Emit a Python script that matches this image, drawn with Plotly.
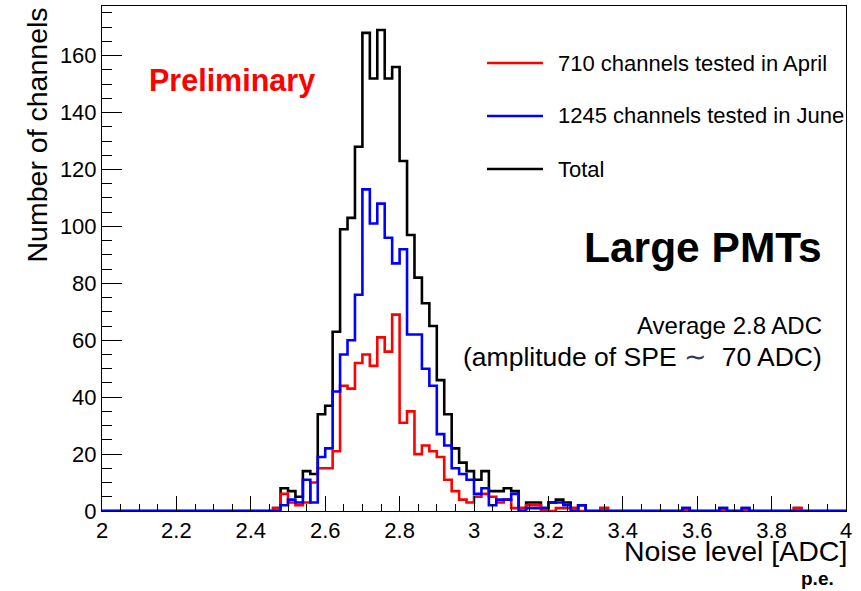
import numpy as np
import plotly.graph_objects as go

# ---- data: histogram of noise level, 100 bins from 2.0 to 4.0 (width 0.02) ----
bin_lo, bin_hi, n_bins = 2.0, 4.0, 100

april = [
    0, 0, 0, 0, 0, 0, 0, 0, 0, 0,
    0, 0, 0, 0, 0, 0, 0, 0, 0, 0,
    0, 0, 0, 1, 6, 3, 2, 3, 10, 15,
    15, 21, 44, 43, 52, 55, 51, 61, 56, 69,
    31, 35, 20, 23, 21, 19, 11, 7, 4, 3,
    5, 6, 5, 3, 4, 1, 1, 2, 2, 0,
    0, 1, 1, 1, 0, 0, 0, 1, 0, 0,
    0, 0, 0, 0, 0, 0, 0, 0, 0, 0,
    0, 0, 0, 0, 0, 0, 0, 0, 0, 0,
    0, 0, 0, 1, 0, 0, 0, 0, 0, 0,
]
june = [
    0, 0, 0, 0, 0, 0, 0, 0, 0, 0,
    0, 0, 0, 0, 0, 0, 0, 0, 0, 0,
    0, 0, 0, 0, 2, 4, 3, 11, 3, 19,
    22, 42, 55, 60, 76, 113, 101, 108, 96, 87,
    92, 62, 62, 50, 44, 27, 23, 15, 13, 11,
    6, 8, 2, 4, 4, 6, 0, 1, 1, 1,
    3, 3, 2, 0, 2, 0, 0, 0, 0, 0,
    0, 0, 0, 0, 0, 0, 0, 0, 1, 0,
    0, 0, 0, 1, 0, 0, 1, 0, 0, 0,
    0, 0, 0, 0, 0, 0, 0, 0, 0, 0,
]
total = [
    0, 0, 0, 0, 0, 0, 0, 0, 0, 0,
    0, 0, 0, 0, 0, 0, 0, 0, 0, 0,
    0, 0, 0, 1, 8, 7, 5, 14, 13, 34,
    37, 63, 99, 103, 128, 168, 152, 169, 152, 156,
    123, 97, 82, 73, 65, 46, 34, 22, 17, 14,
    11, 14, 7, 7, 8, 7, 1, 3, 3, 1,
    3, 4, 3, 1, 2, 0, 0, 1, 0, 0,
    0, 0, 0, 0, 0, 0, 0, 0, 1, 0,
    0, 0, 0, 1, 0, 0, 1, 0, 0, 0,
    0, 0, 0, 1, 0, 0, 0, 0, 0, 0,
]

series_names = ["710 channels tested in April", "1245 channels tested in June", "Total"]
series_colors = ["#ff0000", "#0000ff", "#000000"]

x_ticks = [2, 2.2, 2.4, 2.6, 2.8, 3, 3.2, 3.4, 3.6, 3.8, 4]
y_ticks = [0, 20, 40, 60, 80, 100, 120, 140, 160]

edges = np.linspace(bin_lo, bin_hi, n_bins + 1)
ymax = 1.05 * max(total)

FONT = "Liberation Sans, Arial, Helvetica, sans-serif"

fig = go.Figure()


def add_hist(vals, color):
    yv = list(vals) + [vals[-1]]
    fig.add_trace(go.Scatter(
        x=edges, y=yv, mode="lines", line_shape="hv",
        line=dict(color=color, width=2.6), showlegend=False,
        hoverinfo="skip", cliponaxis=False,
    ))


# drawing order: total first, then April, then June on top
add_hist(total, series_colors[2])
add_hist(april, series_colors[0])
add_hist(june, series_colors[1])

fig.update_layout(
    width=861, height=591,
    margin=dict(l=102, r=15, t=6, b=80),
    paper_bgcolor="white", plot_bgcolor="white",
    font=dict(family=FONT, color="black"),
    showlegend=False,
)

fig.update_xaxes(
    range=[bin_lo, bin_hi], tickvals=x_ticks, ticktext=[f"{v:g}" for v in x_ticks],
    ticks="inside", ticklen=15, tickwidth=1, tickcolor="black",
    minor=dict(dtick=0.05, tick0=2, ticks="inside", ticklen=7.5, tickcolor="black", tickwidth=1),
    showline=True, linecolor="black", linewidth=1, mirror=True,
    showgrid=False, zeroline=False,
    tickfont=dict(size=22, family=FONT, color="black"),
)
fig.update_yaxes(
    range=[0, ymax], tickvals=y_ticks,
    ticks="inside", ticklen=20, tickwidth=1, tickcolor="black",
    minor=dict(dtick=5, tick0=0, ticks="inside", ticklen=10, tickcolor="black", tickwidth=1),
    showline=True, linecolor="black", linewidth=1, mirror=True,
    showgrid=False, zeroline=False,
    tickfont=dict(size=22, family=FONT, color="black"),
)

# legend drawn ROOT-style
leg_y = [0.8871, 0.7822, 0.6772]
for name, col, yy in zip(series_names, series_colors, leg_y):
    fig.add_shape(type="line", xref="paper", yref="paper",
                  x0=0.5175, x1=0.5927, y0=yy, y1=yy,
                  line=dict(color=col, width=2.6))
    fig.add_annotation(xref="paper", yref="paper", x=0.6102, y=yy,
                       xanchor="left", yanchor="middle", showarrow=False,
                       text=name, font=dict(size=22, family=FONT, color="black"))

# axis titles
fig.add_annotation(xref="paper", yref="paper", x=-0.0874, y=1.0, yshift=1,
                   xanchor="center", yanchor="top", textangle=-90, showarrow=False,
                   text="Number of channels", font=dict(size=28.5, family=FONT, color="black"))
fig.add_annotation(xref="paper", yref="paper", x=1.0035, y=-0.079,
                   xanchor="right", yanchor="middle", showarrow=False,
                   text="Noise level [ADC]", font=dict(size=28.5, family=FONT, color="black"))
fig.add_annotation(xref="paper", yref="paper", x=0.986, y=-0.133,
                   xanchor="right", yanchor="middle", showarrow=False,
                   text="<b>p.e.</b>", font=dict(size=19, family=FONT, color="black"))

# in-plot texts
fig.add_annotation(xref="paper", yref="paper", x=0.0605, y=0.853,
                   xanchor="left", yanchor="middle", showarrow=False,
                   text="<b>Preliminary</b>", font=dict(size=30.5, family=FONT, color="#ff0000"))
fig.add_annotation(xref="paper", yref="paper", x=0.9705, y=0.521,
                   xanchor="right", yanchor="middle", showarrow=False,
                   text="<b>Large PMTs</b>", font=dict(size=42.5, family=FONT, color="black"))
fig.add_annotation(xref="paper", yref="paper", x=0.9705, y=0.368,
                   xanchor="right", yanchor="middle", showarrow=False,
                   text="Average 2.8 ADC", font=dict(size=24, family=FONT, color="black"))
fig.add_annotation(xref="paper", yref="paper", x=0.9705, y=0.305,
                   xanchor="right", yanchor="middle", showarrow=False,
                   text="(amplitude of SPE <span style='color:#34405a'>\u223c</span>\u00a0 70 ADC)",
                   font=dict(size=26.5, family=FONT, color="black"))

fig.write_html("out.html")
